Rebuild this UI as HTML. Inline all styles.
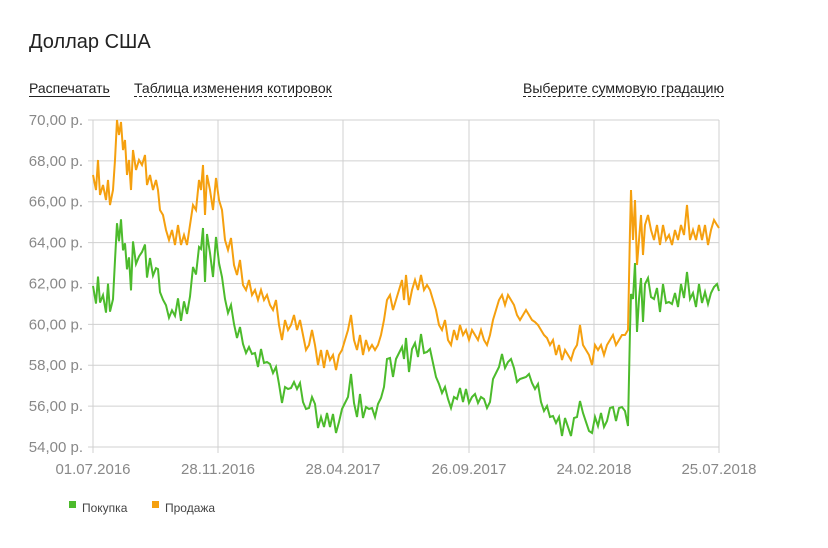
<!DOCTYPE html>
<html><head><meta charset="utf-8"><style>
body{margin:0;width:828px;height:548px;background:#fff;font-family:"Liberation Sans",sans-serif;position:relative;overflow:hidden}
.t{position:absolute;left:29px;top:31px;font-size:20px;color:#222}
.l{position:absolute;top:81px;font-size:14px;color:#222;line-height:15px}
</style></head><body>
<div class="t">Доллар США</div>
<div class="l" style="left:29px;border-bottom:1px solid #222">Распечатать</div>
<div class="l" style="left:134px;border-bottom:1px dashed #222">Таблица изменения котировок</div>
<div class="l" style="left:523px;border-bottom:1px dashed #222">Выберите суммовую градацию</div>
<svg id="s" width="828" height="548" style="position:absolute;left:0;top:0" font-family="Liberation Sans, sans-serif"></svg>
<script>
var s=document.getElementById('s'),h='';
var y0=447,k=20.44;
for(var i=0;i<=8;i++){var y=y0-i*2*k;h+='<line x1="88" x2="719" y1="'+y+'" y2="'+y+'" stroke="#d0d0d0"/>';
h+='<text x="83" y="'+(y+5)+'" font-size="15" fill="#888" text-anchor="end">'+(54+i*2)+',00 р.</text>';}
var xs=[93,218,343,469,594,719],lb=['01.07.2016','28.11.2016','28.04.2017','26.09.2017','24.02.2018','25.07.2018'];
for(i=0;i<6;i++){h+='<line x1="'+xs[i]+'" x2="'+xs[i]+'" y1="120" y2="453" stroke="#d0d0d0"/>';
h+='<text x="'+xs[i]+'" y="474" font-size="15" fill="#888" text-anchor="middle">'+lb[i]+'</text>';}
var o=[93,175,96,190,98,160,100,195,103,185,106,200,108,180,110,205,113,190,115,160,117,120,119,135,121,122,123,150,125,140,127,175,129,160,131,190,133,150,136,170,139,160,142,165,145,155,147,185,150,175,153,190,156,180,158,190,160,210,163,215,166,230,169,240,172,230,175,245,178,225,181,245,184,235,187,245,190,225,193,205,196,210,199,180,201,190,203,165,205,215,207,175,210,190,213,210,216,178,219,200,222,210,225,240,228,250,231,238,234,265,237,275,240,260,243,285,246,290,249,280,252,295,255,290,258,300,261,290,264,300,267,295,270,305,273,310,276,300,279,325,282,340,285,320,288,330,291,325,294,315,297,330,300,320,303,335,306,350,309,345,312,330,315,345,318,365,321,350,324,368,327,350,330,360,333,355,336,370,339,355,342,350,345,340,348,330,351,315,354,340,357,350,360,335,363,355,366,340,369,350,372,345,375,350,378,345,381,335,384,320,387,300,390,295,393,310,396,300,399,290,402,280,404,300,406,275,409,305,412,290,415,280,418,290,421,275,424,290,427,285,430,290,433,300,436,310,439,325,442,330,445,320,448,340,451,345,454,330,457,340,460,325,463,335,466,330,469,340,472,330,475,335,478,340,481,330,484,340,487,345,490,335,493,320,496,310,499,300,502,295,505,305,508,295,511,300,514,305,517,315,520,320,523,315,526,310,529,315,532,320,535,322,538,325,541,330,544,335,547,338,550,345,553,340,556,355,559,345,562,360,565,350,568,355,571,360,574,350,577,345,580,325,583,345,586,350,589,355,592,365,595,345,598,350,601,345,604,355,607,345,610,340,613,335,616,345,619,340,622,335,625,335,628,330,630,230,631,190,633,240,635,200,637,265,639,240,641,215,643,255,645,225,648,215,651,230,654,240,657,225,660,245,663,225,666,240,669,235,672,245,675,230,678,240,681,225,684,235,687,205,690,240,693,230,696,240,699,225,702,240,705,225,708,245,711,230,714,220,717,225,719,228];
var po='',pg='';
for(i=0;i<o.length;i+=2){var x=o[i],y=o[i+1];po+=(i?'L':'M')+x+' '+y;
var off=x<200?115-(x-93)*0.49:(x>540&&x<628?72:63);if(x>=628&&x<632)off=100;
var g=Math.min(442,y+off+((i/2)%3-1)*4);pg+=(i?'L':'M')+x+' '+g;}
h+='<path d="'+pg+'" fill="none" stroke="#4cbb2c" stroke-width="2"/>';
h+='<path d="'+po+'" fill="none" stroke="#f5a00f" stroke-width="2"/>';
h+='<rect x="69" y="501" width="7" height="7" fill="#4cbb2c"/><text x="82" y="512" font-size="12" fill="#444">Покупка</text>';
h+='<rect x="152" y="501" width="7" height="7" fill="#f5a00f"/><text x="165" y="512" font-size="12" fill="#444">Продажа</text>';
s.innerHTML=h;
</script>
</body></html>
